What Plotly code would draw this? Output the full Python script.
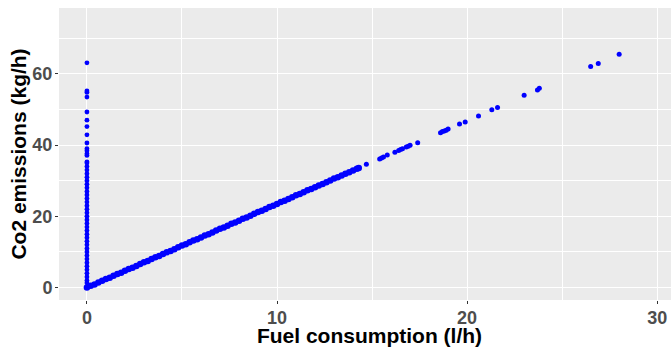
import plotly.graph_objects as go

# Vertical cluster at zero fuel consumption (kg/h)
zero_fuel_co2 = [1.3, 2.0, 3.0, 4.0, 5.0, 6.0, 7.0, 8.0, 9.0, 10.0, 11.0, 12.0, 13.0,
                 14.0, 15.0, 16.0, 17.0, 18.0, 19.0, 20.0, 21.0, 22.0, 23.0, 24.0,
                 25.0, 26.0, 27.0, 28.0, 29.0, 30.0, 31.0, 32.0, 33.0, 34.0, 35.0, 35.3,
                 37.1, 37.6, 38.4, 39.0, 40.6, 42.9, 45.2, 47.0, 49.3, 53.5, 54.8, 55.2, 63.1]

# Dense part of the diagonal relation (fuel l/h, co2 kg/h)
fuel_dense = [0.0, 0.2, 0.4, 0.6, 0.8, 1.0, 1.2, 1.4, 1.6, 1.8, 2.0, 2.2, 2.4, 2.6, 2.8,
              3.0, 3.2, 3.4, 3.6, 3.8, 4.0, 4.2, 4.4, 4.6, 4.8, 5.0, 5.2, 5.4, 5.6, 5.8,
              6.0, 6.2, 6.4, 6.6, 6.8, 7.0, 7.2, 7.4, 7.6, 7.8, 8.0, 8.2, 8.4, 8.6, 8.8,
              9.0, 9.2, 9.4, 9.6, 9.8, 10.0, 10.2, 10.4, 10.6, 10.8, 11.0, 11.2, 11.4, 11.6, 11.8,
              12.0, 12.2, 12.4, 12.6, 12.8, 13.0, 13.2, 13.4, 13.6, 13.8, 14.0, 14.2, 14.3]
co2_dense = [0.0, 0.5, 0.9, 1.4, 1.9, 2.4, 2.8, 3.3, 3.8, 4.2, 4.7, 5.2, 5.6, 6.1, 6.6,
             7.1, 7.5, 8.0, 8.5, 8.9, 9.4, 9.9, 10.3, 10.8, 11.3, 11.8, 12.2, 12.7, 13.2, 13.6,
             14.1, 14.6, 15.0, 15.5, 16.0, 16.5, 16.9, 17.4, 17.9, 18.3, 18.8, 19.3, 19.7, 20.2, 20.7,
             21.2, 21.6, 22.1, 22.6, 23.0, 23.5, 24.0, 24.4, 24.9, 25.4, 25.9, 26.3, 26.8, 27.3, 27.7,
             28.2, 28.7, 29.1, 29.6, 30.1, 30.6, 31.0, 31.5, 32.0, 32.4, 32.9, 33.4, 33.6]

# Sparse high-consumption points
fuel_sparse = [14.7, 15.4, 15.5, 15.6, 15.8, 16.2, 16.4, 16.5, 16.6, 16.8, 16.9, 17.0, 17.4,
               18.6, 18.7, 18.8, 18.9, 19.0, 19.6, 19.9, 20.6, 21.3, 21.6, 23.0, 23.7, 23.8,
               26.5, 26.9, 28.0]
co2_sparse = [34.6, 36.1, 36.4, 36.7, 37.2, 38.0, 38.5, 38.8, 39.0, 39.5, 39.7, 40.0, 40.7,
              43.5, 43.8, 44.0, 44.2, 44.5, 45.9, 46.5, 48.2, 49.9, 50.6, 54.0, 55.5, 56.0,
              62.1, 62.9, 65.5]

x_ticks = [0, 10, 20, 30]
y_ticks = [0, 20, 40, 60]

BLUE = "#0000FF"
fig = go.Figure()
fig.add_trace(go.Scatter(x=[0.0] * len(zero_fuel_co2), y=zero_fuel_co2, mode="markers",
                         marker=dict(color=BLUE, size=4.8, line=dict(width=0)),
                         showlegend=False, hoverinfo="skip"))
fig.add_trace(go.Scatter(x=fuel_dense, y=co2_dense, mode="markers",
                         marker=dict(color=BLUE, size=6.5, line=dict(width=0)),
                         showlegend=False, hoverinfo="skip"))
fig.add_trace(go.Scatter(x=fuel_sparse, y=co2_sparse, mode="markers",
                         marker=dict(color=BLUE, size=5, line=dict(width=0)),
                         showlegend=False, hoverinfo="skip"))

tickfont = dict(family="Liberation Sans, Arial, sans-serif", size=18, color="#4D4D4D", weight="bold")
titlefont = dict(family="Liberation Sans, Arial, sans-serif", size=21, color="#000000", weight="bold")

# The panel runs slightly past the right edge of the 671 px window (as in the reference crop)
fig.update_xaxes(range=[-1.47, 31.2], tickvals=x_ticks, ticktext=[str(v) for v in x_ticks],
                 showgrid=True, gridcolor="#FFFFFF", gridwidth=1.1,
                 minor=dict(dtick=5, tick0=0, showgrid=True, gridcolor="#FFFFFF", gridwidth=0.5, ticks=""),
                 zeroline=False, showline=False, ticks="outside", ticklen=3, tickwidth=1,
                 tickcolor="#333333", tickfont=tickfont, ticklabelstandoff=-2,
                 title=dict(text="Fuel consumption (l/h)", font=titlefont, standoff=0))
fig.update_yaxes(range=[-3.48, 78.5], tickvals=y_ticks, ticktext=[str(v) for v in y_ticks],
                 showgrid=True, gridcolor="#FFFFFF", gridwidth=1.1,
                 minor=dict(dtick=10, tick0=0, showgrid=True, gridcolor="#FFFFFF", gridwidth=0.5, ticks=""),
                 zeroline=False, showline=False, ticks="outside", ticklen=3, tickwidth=1,
                 tickcolor="#333333", tickfont=tickfont, ticklabelstandoff=-1,
                 title=dict(text="Co2 emissions (kg/h)", font=titlefont, standoff=0))

fig.update_layout(width=680, height=347, margin=dict(l=59, r=0, t=8, b=47, autoexpand=False),
                  plot_bgcolor="#EBEBEB", paper_bgcolor="#FFFFFF")

fig.write_html("out.html", config={"displayModeBar": False},
               post_script="document.body.style.margin='0';document.body.style.overflow='hidden';")
